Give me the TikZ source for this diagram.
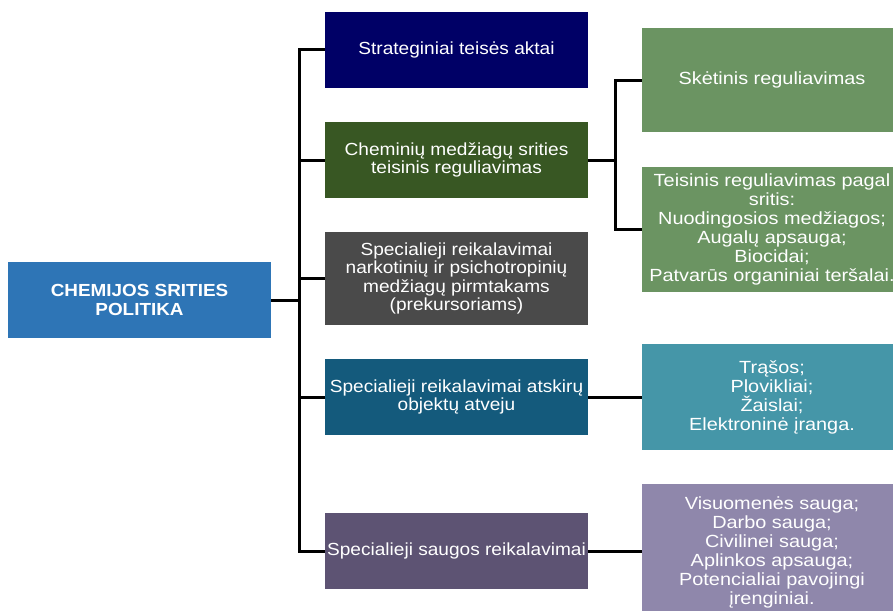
\documentclass[tikz,border=0pt]{standalone}
\usepackage{fontspec}
\newfontfamily\boxfont{Liberation Sans}[FakeStretch=1.09]
\newfontfamily\rightfont{Liberation Sans}[FakeStretch=1.13]
\newfontfamily\mainfont{Liberation Sans}[FakeStretch=1.08]
\definecolor{mainblue}{HTML}{2E75B6}
\definecolor{cnavy}{HTML}{000066}
\definecolor{cdkgreen}{HTML}{385723}
\definecolor{cdkgray}{HTML}{4A4A4A}
\definecolor{cdkteal}{HTML}{145A7C}
\definecolor{cdkpurple}{HTML}{5D5373}
\definecolor{cltgreen}{HTML}{6B9462}
\definecolor{clteal}{HTML}{4596A8}
\definecolor{cltpurple}{HTML}{8F87AB}
\tikzset{
  mainbox/.style={rectangle, inner sep=0pt, minimum width=263pt, minimum height=76pt,
    text=white, align=center, font=\mainfont\bfseries\fontsize{17.5}{19}\selectfont},
  midbox/.style={rectangle, inner sep=0pt, minimum width=263pt,
    text=white, align=center, font=\boxfont\fontsize{17.5}{18.5}\selectfont},
  rightbox/.style={rectangle, inner sep=0pt, minimum width=260pt,
    text=white, align=center, font=\rightfont\fontsize{17.6}{19}\selectfont},
  conn/.style={draw=black, line width=3pt}
}
\begin{document}
\begin{tikzpicture}[x=1pt,y=-1pt]
\useasboundingbox (0,0) rectangle (893,610);
\clip (0,0) rectangle (893,610);
% main
\node[mainbox, fill=mainblue] (main) at (139.5,300) {CHEMIJOS SRITIES\\POLITIKA};
% middle column
\node[midbox, fill=cnavy, minimum height=76pt] (b1) at (456.5,50) {Strateginiai teisės aktai};
\node[midbox, fill=cdkgreen, minimum height=76pt] (b2) at (456.5,160) {Cheminių medžiagų srities\\teisinis reguliavimas};
\node[midbox, fill=cdkgray, minimum height=93pt] (b3) at (456.5,278.5) {Specialieji reikalavimai\\narkotinių ir psichotropinių\\medžiagų pirmtakams\\(prekursoriams)};
\node[midbox, fill=cdkteal, minimum height=76pt] (b4) at (456.5,397) {Specialieji reikalavimai atskirų\\objektų atveju};
\node[midbox, fill=cdkpurple, minimum height=76pt] (b5) at (456.5,551) {Specialieji saugos reikalavimai};
% right column
\node[rightbox, fill=cltgreen, minimum height=104pt] (r1) at (772,80) {Skėtinis reguliavimas};
\node[rightbox, fill=cltgreen, minimum height=125pt] (r2) at (772,229.5) {Teisinis reguliavimas pagal\\sritis:\\Nuodingosios medžiagos;\\Augalų apsauga;\\Biocidai;\\Patvarūs organiniai teršalai.};
\node[rightbox, fill=clteal, minimum height=106pt] (r3) at (772,397) {Trąšos;\\Plovikliai;\\Žaislai;\\Elektroninė įranga.};
\node[rightbox, fill=cltpurple, minimum height=136pt] (r4) at (772,552) {Visuomenės sauga;\\Darbo sauga;\\Civilinei sauga;\\Aplinkos apsauga;\\Potencialiai pavojingi\\įrenginiai.};
% connectors
\coordinate (t1) at (299,300);
\draw[conn] (main.east) -- (t1);
\foreach \b in {b1,b2,b3,b4,b5} \draw[conn] (t1) |- (\b.west);
\coordinate (t2) at (615,160);
\draw[conn] (b2.east) -- (t2);
\draw[conn] (t2) |- (r1.west);
\draw[conn] (t2) |- (r2.west);
\draw[conn] (b4.east) -- (r3.west);
\draw[conn] (b5.east) -- (b5.east -| r4.west);
\end{tikzpicture}
\end{document}
